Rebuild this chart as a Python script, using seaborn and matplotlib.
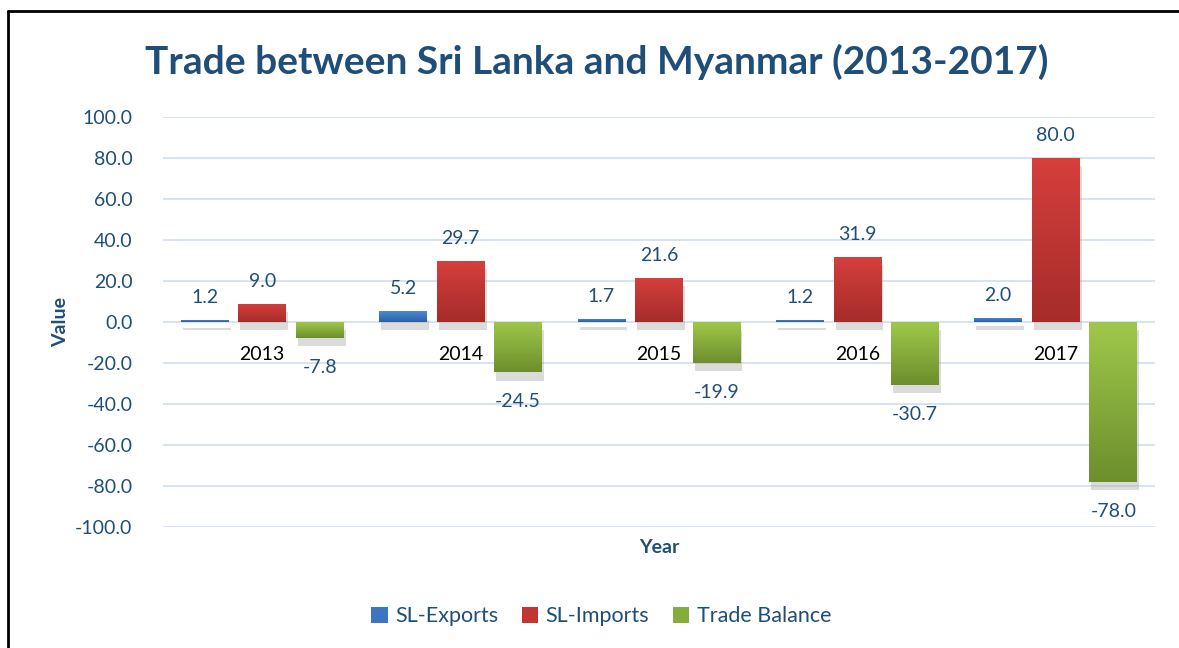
import numpy as np
import pandas as pd
import seaborn as sns
import matplotlib.pyplot as plt
import matplotlib.patheffects as pe
from matplotlib.patches import Patch
from matplotlib.lines import Line2D
from matplotlib.colors import LinearSegmentedColormap

# data
years = ["2013", "2014", "2015", "2016", "2017"]
sl_exports = [1.2, 5.2, 1.7, 1.2, 2.0]
sl_imports = [9.0, 29.7, 21.6, 31.9, 80.0]
trade_balance = [-7.8, -24.5, -19.9, -30.7, -78.0]
series = ["SL-Exports", "SL-Imports", "Trade Balance"]

# top (light) / bottom (dark) colours for the gradient fill
light = ["#4a8ad8", "#d63f3c", "#9fc84a"]
dark = ["#2d5fa6", "#a52c2a", "#6d8e2d"]
mid = ["#3b75c4", "#c23533", "#86ad3c"]
navy = "#1f4e79"

df = pd.DataFrame({
    "Year": years * 3,
    "Series": np.repeat(series, len(years)),
    "Value": sl_exports + sl_imports + trade_balance,
})

sns.set_theme(style="white")
plt.rcParams["font.family"] = ["Lato", "DejaVu Sans"]

fig = plt.figure(figsize=(11.79, 6.48), dpi=100)
ax = fig.add_axes([0.1383, 0.1867, 0.8413, 0.6327])

sns.barplot(data=df, x="Year", y="Value", hue="Series", hue_order=series,
            palette=mid, width=0.87, gap=0.17, legend=False, ax=ax,
            linewidth=0, zorder=3)

ax.set_ylim(-100, 100)
ax.set_xlim(-0.5, 4.5)
ax.set_yticks(np.arange(-100, 101, 20))
ax.set_yticklabels([f"{v:.1f}" for v in np.arange(-100, 101, 20)],
                   color=navy, fontsize=14)
ax.yaxis.grid(True, color="#d3e0f1", linewidth=1.3, zorder=0)
ax.set_axisbelow(True)
for s in ["left", "right", "top"]:
    ax.spines[s].set_visible(False)
ax.spines["bottom"].set_position(("data", 0))
ax.spines["bottom"].set_visible(False)
ax.tick_params(axis="x", length=0, pad=17, labelsize=14, labelcolor="black")
ax.tick_params(axis="y", length=0, pad=22)

# gradient fill + soft shadow for every bar
for k, cont in enumerate(ax.containers):
    cmap = LinearSegmentedColormap.from_list("g", [dark[k], light[k]])
    grad = np.linspace(0, 1, 256).reshape(-1, 1)
    for bar in cont:
        x0, y0 = bar.get_x(), bar.get_y()
        w, h = bar.get_width(), bar.get_height()
        ylo, yhi = min(y0, y0 + h), max(y0, y0 + h)
        bar.set_path_effects([pe.SimplePatchShadow(offset=(1.5, -6), shadow_rgbFace="#9a9a9a", alpha=0.35), pe.Normal()])
        im = ax.imshow(grad, extent=[x0, x0 + w, ylo, yhi], origin="lower",
                       cmap=cmap, aspect="auto", zorder=4)
        im.set_clip_path(bar)
    pad = 15 if k == 2 else 10
    ax.bar_label(cont, labels=[f"{v:.1f}" for v in cont.datavalues],
                 padding=pad, color=navy, fontsize=14, zorder=5)
ax.set_xlim(-0.5, 4.5)
ax.set_ylim(-100, 100)

ax.set_ylabel("Value", color=navy, fontsize=14, fontweight="bold")
ax.yaxis.set_label_coords(-0.095, 0.5)
ax.set_xlabel("Year", color=navy, fontsize=14, fontweight="bold")
ax.xaxis.set_label_coords(0.5, -0.03)

fig.text(0.506, 0.904, "Trade between Sri Lanka and Myanmar (2013-2017)",
         ha="center", va="center", color=navy, fontsize=28, fontweight="bold")

handles = [Patch(facecolor=c, edgecolor="none") for c in mid]
fig.legend(handles, series, loc="center", bbox_to_anchor=(0.51, 0.049),
           ncol=3, frameon=False, fontsize=15.5, labelcolor=navy,
           handlelength=0.75, handleheight=0.75, handletextpad=0.35,
           columnspacing=1.1)

# frame lines at the top and left of the picture
fig.add_artist(Line2D([8 / 1179, 1], [1 - 11 / 648] * 2, color="black", lw=2))
fig.add_artist(Line2D([8 / 1179] * 2, [0, 1 - 11 / 648], color="black", lw=2))

fig.savefig("out.png", dpi=100)
